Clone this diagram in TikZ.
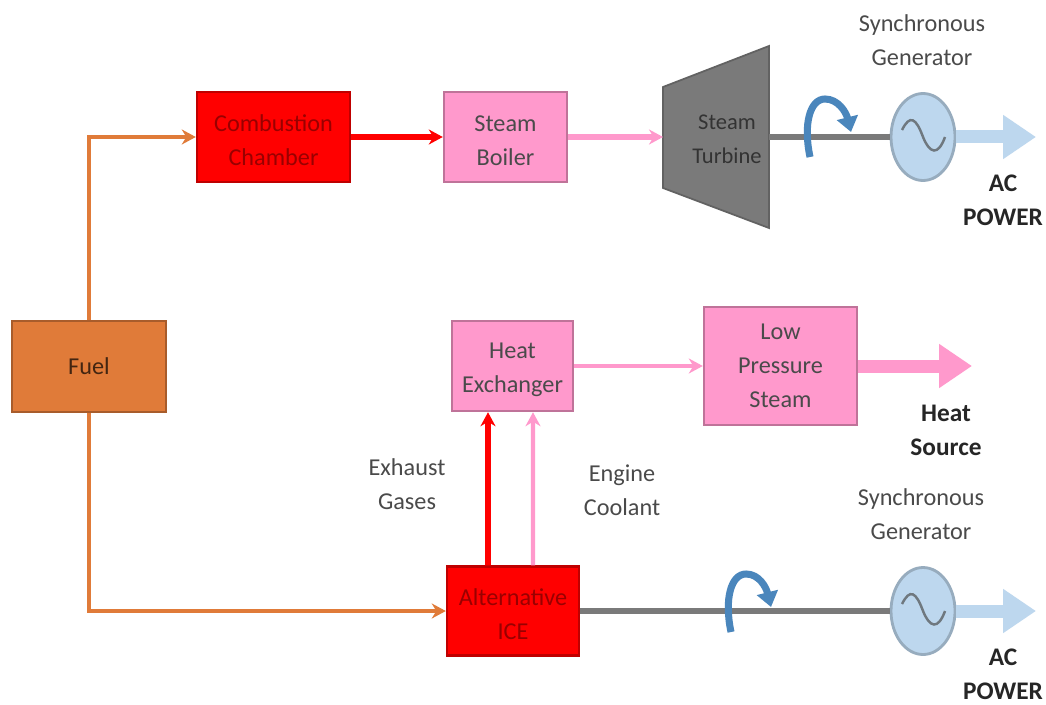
\documentclass[tikz,border=0pt]{standalone}
\usepackage{fontspec}
\setmainfont{Carlito}
\usetikzlibrary{arrows.meta,shapes.geometric}
\definecolor{Ink}{HTML}{4A4A4A}
\definecolor{FuelOrange}{HTML}{E07B39}
\definecolor{HotRed}{HTML}{FF0000}
\definecolor{SteamPink}{HTML}{FF99CC}
\definecolor{ShaftGrey}{HTML}{7A7A7A}
\definecolor{GenBlue}{HTML}{BDD7EE}
\definecolor{SpinBlue}{HTML}{4A86BC}
\newcommand{\lowered}{\rule{0pt}{6.8pt}}
\tikzset{
  block/.style={draw=#1!75!black,line width=0.7pt,inner sep=0pt,align=center,font=\fontsize{6.9}{9.7}\selectfont},
  note/.style={inner sep=0pt,align=center,text=Ink,font=\fontsize{6.9}{9.7}\selectfont},
  power/.style={inner sep=0pt,align=center,text=black!85,font=\fontsize{7.2}{9.7}\selectfont\bfseries},
  generator/.style={ellipse,draw=GenBlue!80!black,fill=GenBlue,line width=0.8pt,minimum width=0.64cm,minimum height=0.87cm,inner sep=0pt},
  flow/.style={->,line width=1.2pt},
  shaft/.style={ShaftGrey,line width=1.5pt},
  fatflow/.style={-{Triangle[length=0.33cm,width=0.42cm]},line width=0.13cm},
  spin/.style={-{Triangle[length=0.15cm,width=0.21cm]},SpinBlue,line width=2pt},
  wave/.style={GenBlue!40!black!80,line width=0.7pt}
}
\begin{document}
\begin{tikzpicture}[x=1cm,y=1cm,>={Stealth[length=0.14cm,width=0.15cm]}]
\useasboundingbox (0,0) rectangle (10.46,7.04);
\fill[white] (0,0) rectangle (10.46,7.04);
% boxes
\node[block=FuelOrange,fill=FuelOrange,text=black!70!FuelOrange,minimum width=1.54cm,minimum height=0.91cm] (fuel) at (0.89,3.375) {Fuel};
\node[block=HotRed,fill=HotRed,text=HotRed!60!black,minimum width=1.53cm,minimum height=0.90cm] (chamber) at (2.735,5.67) {\lowered Combustion\\Chamber};
\node[block=SteamPink,fill=SteamPink,text=Ink,minimum width=1.23cm,minimum height=0.90cm] (boiler) at (5.055,5.67) {\lowered Steam\\Boiler};
\node[block=SteamPink,fill=SteamPink,text=Ink,minimum width=1.21cm,minimum height=0.90cm] (exchanger) at (5.125,3.38) {\lowered Heat\\Exchanger};
\node[block=SteamPink,fill=SteamPink,text=Ink,minimum width=1.53cm,minimum height=1.18cm] (lowsteam) at (7.805,3.38) {Low\\Pressure\\Steam};
\node[block=HotRed,fill=HotRed,text=HotRed!60!black,minimum width=1.32cm,minimum height=0.89cm] (ice) at (5.13,0.93) {\lowered Alternative\\ICE};
% turbine
\fill[ShaftGrey,draw=ShaftGrey!80!black,line width=0.5pt] (6.63,6.17) -- (7.69,6.58) -- (7.69,4.76) -- (6.63,5.16) -- cycle;
\node[inner sep=0pt,align=center,text=black!80,font=\fontsize{6.4}{9.7}\selectfont] (turbine) at (7.27,5.65) {Steam\\Turbine};
\coordinate (turbinein) at (6.63,5.67);
\coordinate (turbineout) at (7.69,5.67);
% generators
\node[generator] (gentop) at (9.23,5.67) {};
\node[generator] (genlow) at (9.23,0.93) {};
\draw[wave] (9.02,5.74) .. controls (9.10,5.90) and (9.16,5.86) .. (9.23,5.67) .. controls (9.30,5.50) and (9.38,5.48) .. (9.45,5.67);
\draw[wave] (9.02,1.00) .. controls (9.10,1.16) and (9.16,1.12) .. (9.23,0.93) .. controls (9.30,0.76) and (9.38,0.74) .. (9.45,0.93);
\coordinate (actop) at (10.36,5.67);
\coordinate (aclow) at (10.36,0.93);
\coordinate (heatend) at (9.72,3.38);
% connectors
\draw[flow,FuelOrange] (fuel.north) |- (chamber.west);
\draw[flow,FuelOrange] (fuel.south) |- (ice.west);
\draw[flow,HotRed,line width=1.6pt] (chamber.east) -- (boiler.west);
\draw[flow,SteamPink,line width=1.6pt] (boiler.east) -- (turbinein);
\draw[flow,SteamPink] (exchanger.east) -- (lowsteam.west);
\draw[flow,HotRed,line width=1.6pt] ([xshift=-0.25cm]ice.north) -- ([xshift=-0.245cm]exchanger.south);
\draw[flow,SteamPink] ([xshift=0.20cm]ice.north) -- ([xshift=0.205cm]exchanger.south);
\draw[shaft] (turbineout) -- (gentop.west);
\draw[shaft] (ice.east) -- (genlow.west);
\draw[fatflow,GenBlue] (gentop.east) -- (actop);
\draw[fatflow,GenBlue] (genlow.east) -- (aclow);
\draw[fatflow,SteamPink] (lowsteam.east) -- (heatend);
% rotation marks
\draw[spin] (8.10,5.47) .. controls (8.03,5.80) and (8.10,6.05) .. (8.25,6.05) .. controls (8.38,6.05) and (8.46,5.92) .. (8.51,5.72);
\draw[spin] (7.31,0.72) .. controls (7.24,1.05) and (7.31,1.30) .. (7.46,1.30) .. controls (7.59,1.30) and (7.66,1.17) .. (7.71,0.97);
% labels
\node[note] (syntop) at (9.22,6.64) {Synchronous\\Generator};
\node[note] (synlow) at (9.21,1.90) {Synchronous\\Generator};
\node[power] (powertop) at (10.03,5.04) {AC\\POWER};
\node[power] (powerlow) at (10.03,0.30) {AC\\POWER};
\node[power] (heatsource) at (9.46,2.74) {Heat\\Source};
\node[note] (exhaust) at (4.07,2.20) {Exhaust\\Gases};
\node[note] (coolant) at (6.22,2.14) {Engine\\Coolant};
\end{tikzpicture}
\end{document}
